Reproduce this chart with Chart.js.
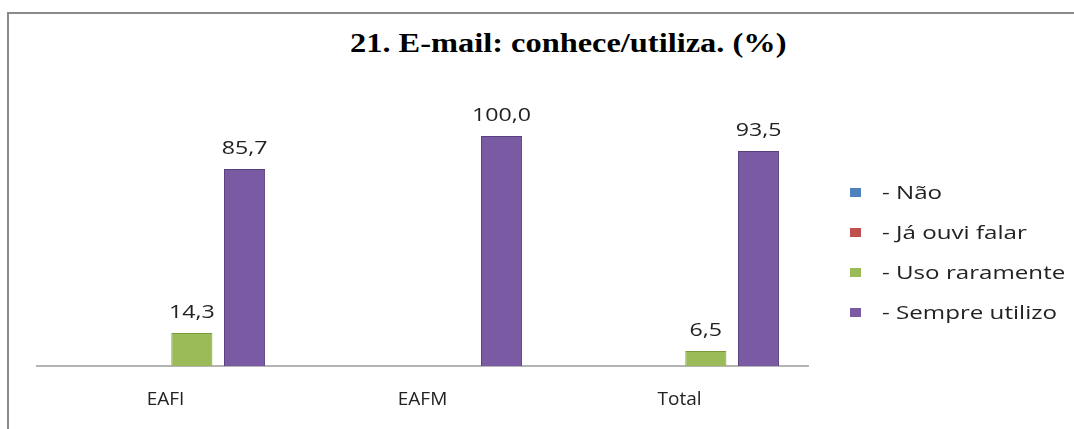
<!DOCTYPE html>
<html>
<head>
<meta charset="utf-8">
<script src="https://cdn.jsdelivr.net/npm/chart.js@4/dist/chart.umd.min.js"></script>
<style>
    html, body { margin: 0; padding: 0; background: #fff; }
    #wrap { position: relative; width: 1074px; height: 429px; overflow: hidden; }
    #frame { position: absolute; left: 7px; top: 12px; width: 1074px; height: 440px;
             border-left: 2px solid #8a8a8a; border-top: 2px solid #8a8a8a; box-sizing: border-box; }
    #title { position: absolute; left: 350px; top: 28px; white-space: nowrap;
             font: bold 27px "Liberation Serif", "Times New Roman", serif; color: #000;
             transform: scaleX(1.2); transform-origin: left top; }
    #legend { position: absolute; left: 850px; top: 180px; font: 19px "Open Sans", sans-serif; color: #222; }
    #legend div { height: 40px; line-height: 24px; display: flex; align-items: flex-start; }
    #legend span.box { display: inline-block; width: 11px; height: 9px; margin: 8px 21px 0 0; }
    #legend span.txt { display: inline-block; transform: scaleX(1.27); transform-origin: left top; white-space: nowrap; }
    canvas { position: absolute; left: 0; top: 0; }
</style>
</head>
<body>
<div id="wrap">
    <div id="frame"></div>
    <div id="title">21. E-mail: conhece/utiliza. (%)</div>
    <canvas id="chart" width="1074" height="429"></canvas>
    <div id="legend"></div>
</div>
<script>
// Data
const categories = ['EAFI', 'EAFM', 'Total'];
const seriesNames = ['- Não', '- Já ouvi falar', '- Uso raramente', '- Sempre utilizo'];
const naoValues = [0, 0, 0];
const jaOuviValues = [0, 0, 0];
const raramenteValues = [14.3, 0, 6.5];
const sempreValues = [85.7, 100.0, 93.5];

const fills = ['#4f81bd', '#c0504d', '#9bbb59', '#7a5aa3'];
const edges = ['#3a6496', '#983c3a', '#7a9a3a', '#57407e'];

// Build legend
const legend = document.getElementById('legend');
seriesNames.forEach((name, i) => {
    const row = document.createElement('div');
    row.innerHTML = `<span class="box" style="background:${fills[i]}"></span><span class="txt">${name}</span>`;
    legend.appendChild(row);
});

// Value labels above bars (zeros are skipped)
const valueLabels = {
    id: 'valueLabels',
    afterDatasetsDraw(chart) {
        const ctx = chart.ctx;
        chart.data.datasets.forEach((ds, i) => {
            chart.getDatasetMeta(i).data.forEach((bar, j) => {
                const v = ds.data[j];
                if (!v) return;
                ctx.save();
                ctx.font = '19px "Open Sans", sans-serif';
                ctx.fillStyle = '#222';
                ctx.textAlign = 'center';
                ctx.textBaseline = 'bottom';
                ctx.translate(bar.x, bar.y - 11);
                ctx.scale(1.22, 1);
                ctx.fillText(v.toFixed(1).replace('.', ','), 0, 0);
                ctx.restore();
            });
        });
    }
};

const datasets = [naoValues, jaOuviValues, raramenteValues, sempreValues].map((vals, i) => ({
    label: seriesNames[i],
    data: vals,
    backgroundColor: fills[i],
    borderColor: edges[i],
    borderWidth: 1,
    categoryPercentage: 0.82,
    barPercentage: 0.78
}));

new Chart(document.getElementById('chart'), {
    type: 'bar',
    data: { labels: categories, datasets: datasets },
    options: {
        responsive: false,
        animation: false,
        layout: { padding: { left: 37, right: 266, top: 136, bottom: 13 } },
        plugins: {
            legend: { display: false },
            tooltip: { enabled: false }
        },
        scales: {
            x: {
                grid: { display: false, drawTicks: false },
                border: { color: '#b4b4b4', width: 2 },
                ticks: {
                    padding: 22,
                    color: '#222',
                    font: { family: 'Open Sans', size: 19 }
                },
                afterFit(scale) { scale.height = 50; }
            },
            y: {
                display: false,
                min: 0,
                max: 100
            }
        }
    },
    plugins: [valueLabels]
});
</script>
</body>
</html>
